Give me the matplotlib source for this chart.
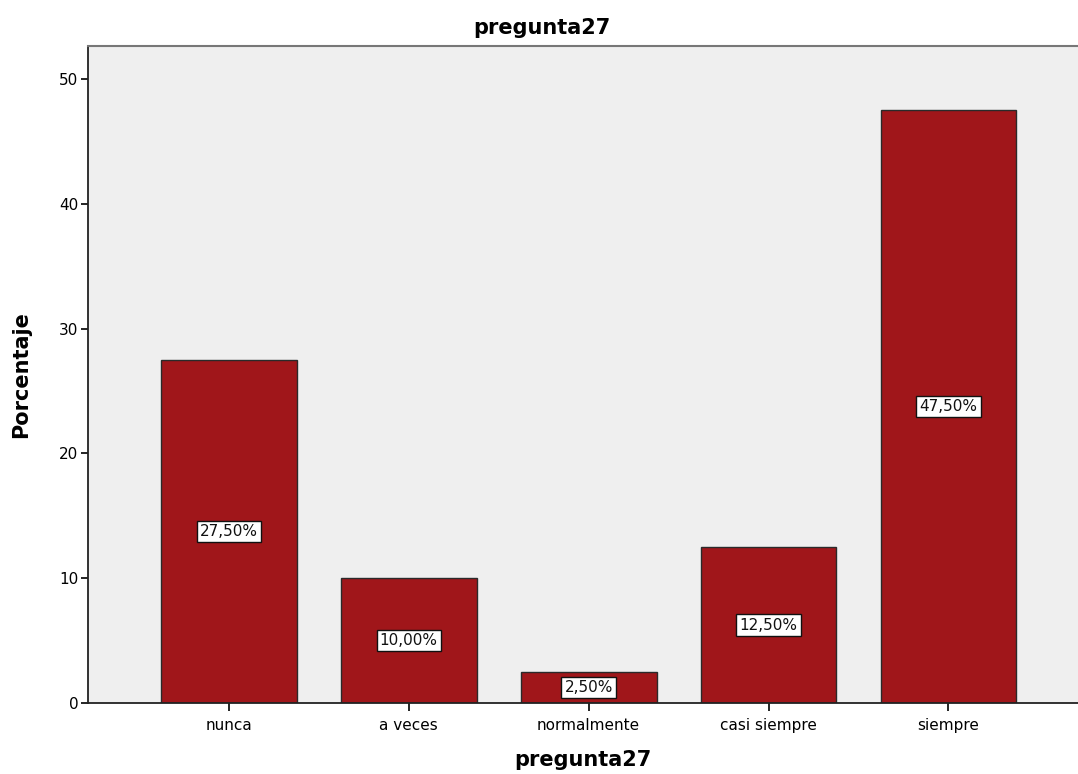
import numpy as np
import matplotlib
matplotlib.use("Agg")
from matplotlib import pyplot as plt

# data
categories = ["nunca", "a veces", "normalmente", "casi siempre", "siempre"]
porcentajes = [27.5, 10.0, 2.5, 12.5, 47.5]
etiquetas = ["27,50%", "10,00%", "2,50%", "12,50%", "47,50%"]
yticks = [0, 10, 20, 30, 40, 50]

bar_color = "#A0161A"
bg_color = "#EFEFEF"

fig = plt.figure(figsize=(10.78, 7.74), dpi=100)
W, H = 1078, 774
ax = fig.add_axes([88 / W, 1 - 703 / H, (W - 88) / W, (703 - 46) / H])
ax.set_facecolor(bg_color)

x = np.arange(len(categories))
ax.bar(x, porcentajes, width=0.755, color=bar_color, edgecolor="#2a2a2a", linewidth=1.0, zorder=2)

for xi, v, lab in zip(x, porcentajes, etiquetas):
    ax.text(xi, v / 2, lab, ha="center", va="center", fontsize=11, color="#111111", zorder=3,
            bbox=dict(boxstyle="square,pad=0.2", facecolor="white", edgecolor="#111111", linewidth=1.0))

ax.set_xlim(-0.782, 4.72)
ax.set_ylim(0, 52.65)
ax.set_yticks(yticks)
ax.set_xticks(x)
ax.set_xticklabels(categories, fontsize=11)
ax.tick_params(axis="y", labelsize=11, length=5, width=1.2, direction="out", pad=2)
ax.tick_params(axis="x", length=6, width=1.2, direction="out", pad=5)

for s in ["left", "bottom"]:
    ax.spines[s].set_color("#222222")
    ax.spines[s].set_linewidth(1.3)
ax.spines["top"].set_color("#777777")
ax.spines["top"].set_linewidth(1.5)
ax.spines["right"].set_visible(False)

ax.set_xlabel("pregunta27", fontsize=15, fontweight="bold", labelpad=12)
ax.set_ylabel("Porcentaje", fontsize=15, fontweight="bold", labelpad=20)
fig.text(542 / W, 1 - 28 / H, "pregunta27", fontsize=15, fontweight="bold", ha="center", va="center")

plt.savefig("out.png", dpi=100, facecolor="white")
plt.close()
